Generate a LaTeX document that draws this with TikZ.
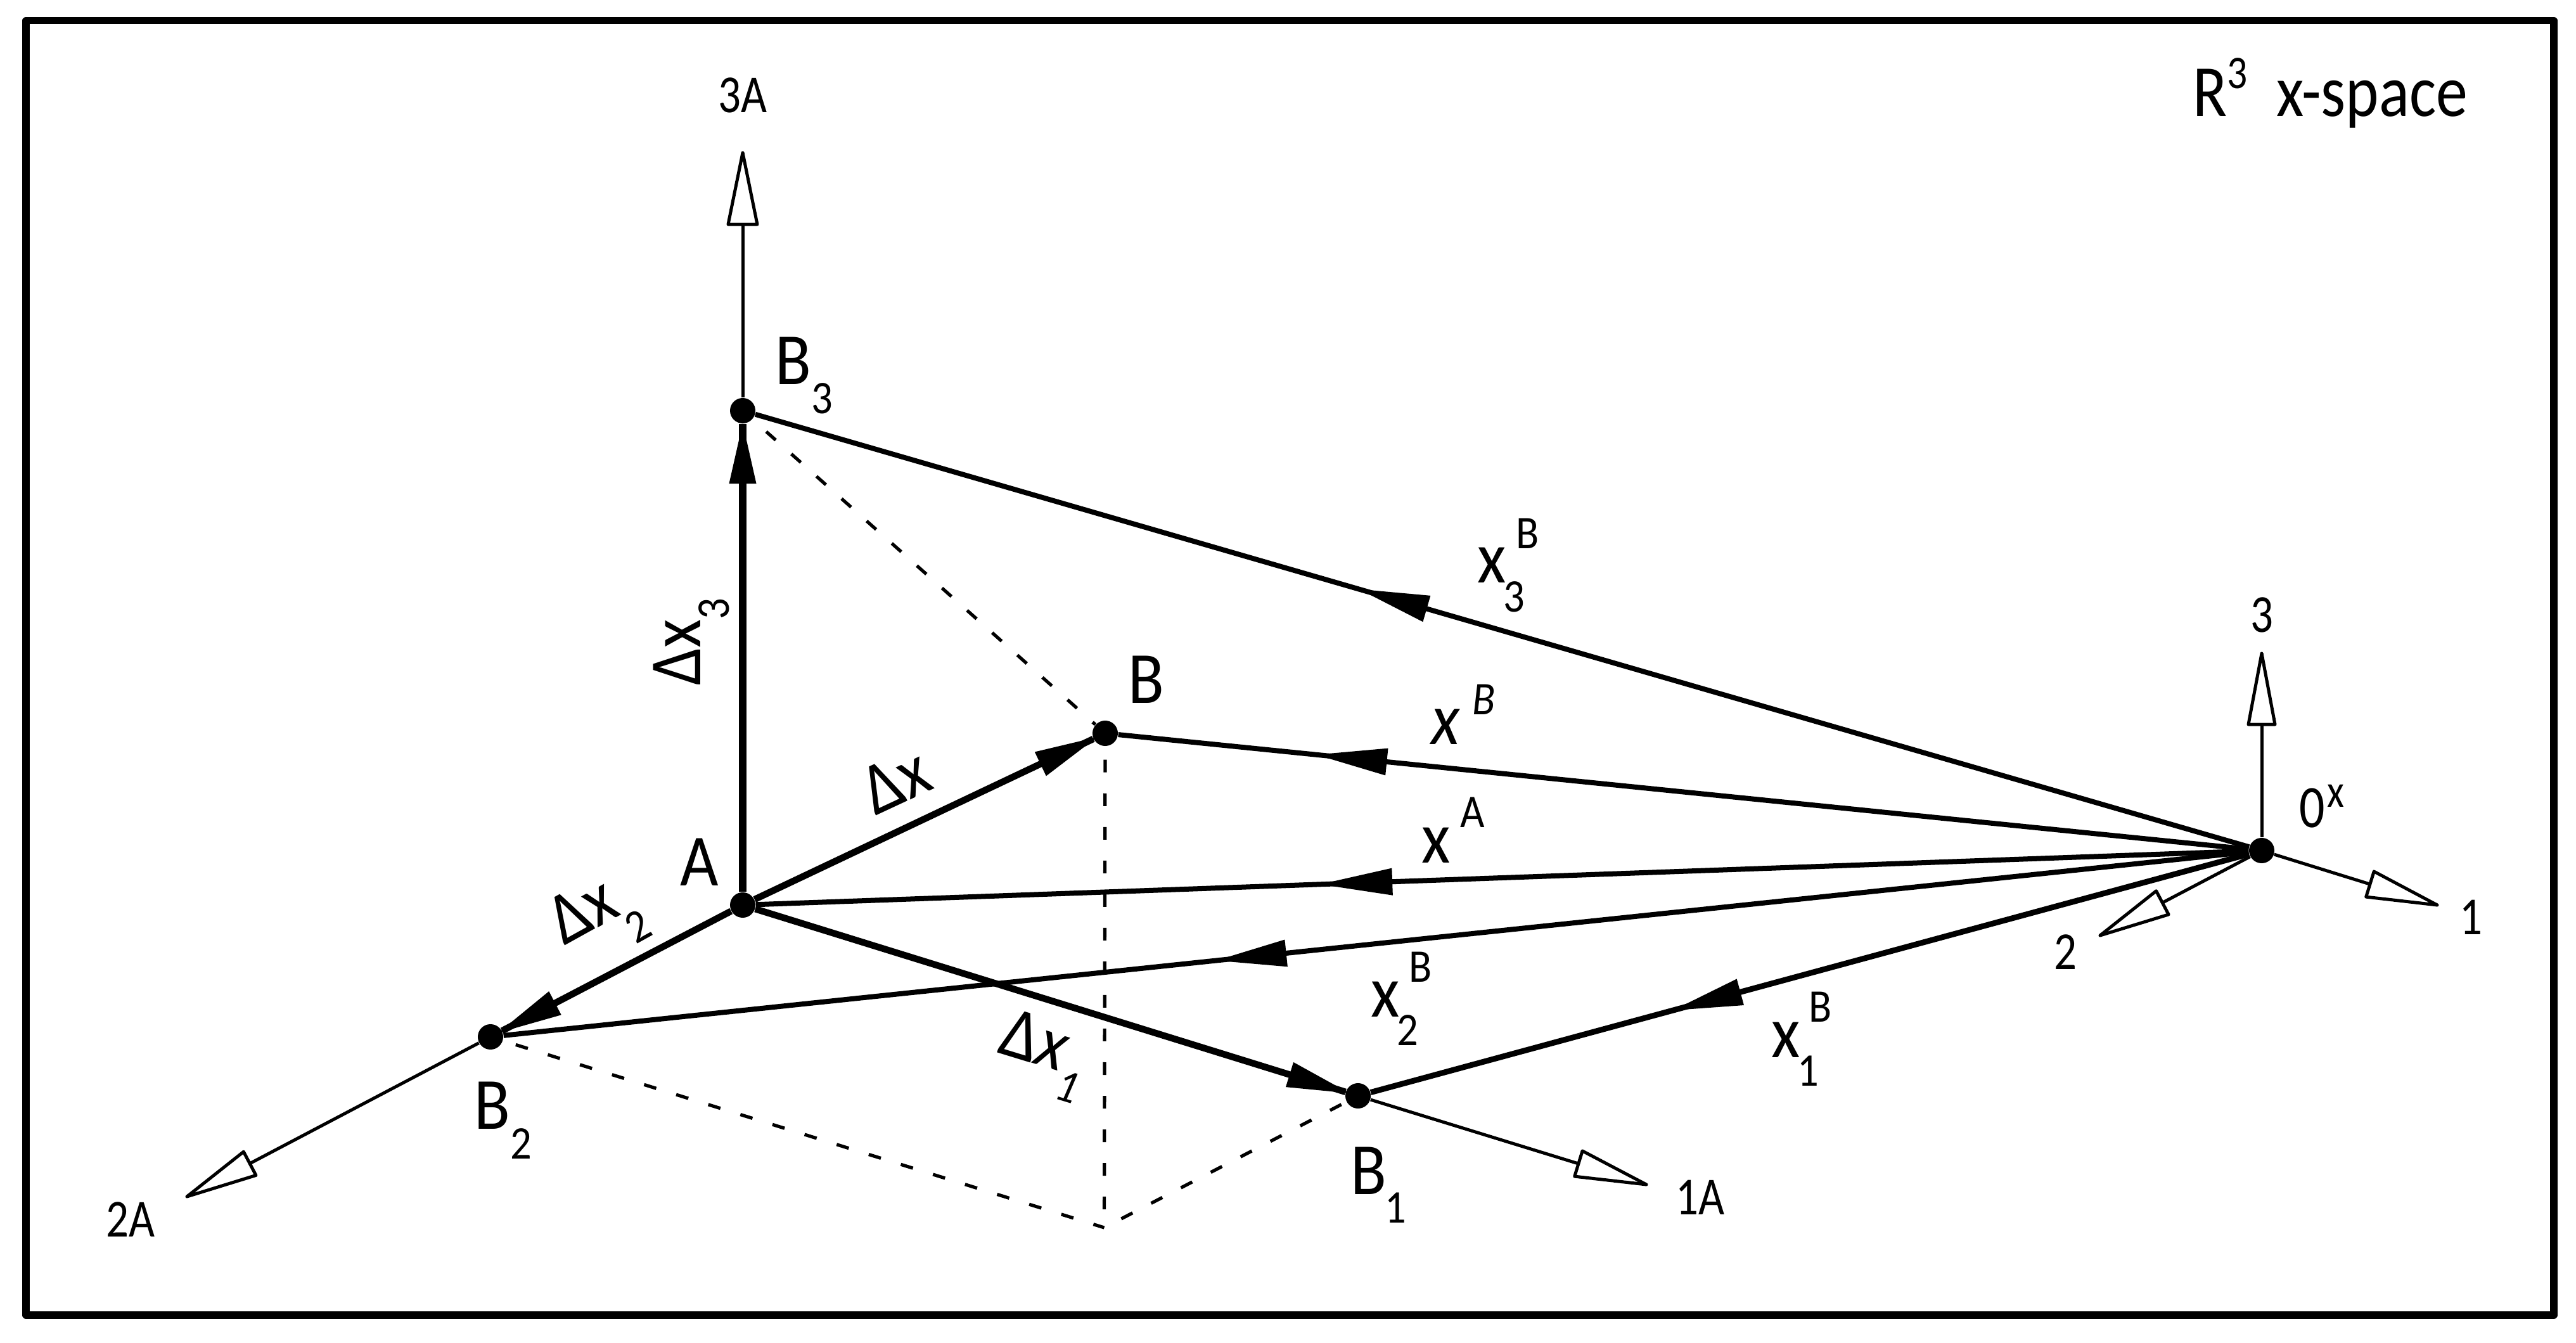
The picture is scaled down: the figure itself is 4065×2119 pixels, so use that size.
\documentclass[tikz,border=0pt]{standalone}
\usepackage{fontspec}
\setmainfont[FakeStretch=0.9]{Carlito}
\newfontfamily\titlef[FakeStretch=0.86]{Carlito}
\newfontfamily\numf[FakeStretch=0.84]{Carlito}
\usetikzlibrary{calc}
\newcommand{\lbig}{\fontsize{33}{36}\selectfont}
\newcommand{\lsm}{\fontsize{21}{24}\selectfont}
\newcommand{\lnum}{\numf\fontsize{24}{26}\selectfont}
\newcommand{\lsubp}[3]{\rlap{\kern#1cm\raisebox{#2cm}{\lsm #3}}}
\newcommand{\lsupp}[3]{\kern#1cm\raisebox{#2cm}{\lsm #3}}
% triangular head: style, tip, point behind it, length, half width
\newcommand{\tiphead}[5]{\path[#1] (#2) -- ($(#2)!#4!(#3)!#5!90:(#3)$) -- ($(#2)!#4!(#3)!#5!-90:(#3)$) -- cycle;}
\tikzset{
  x=0.01cm, y=-0.01cm,
  dotnode/.style={circle,fill=black,inner sep=0pt,minimum size=0.4cm},
  frameline/.style={draw=black,line width=0.115cm,line join=round},
  vecA/.style={draw=black,line width=0.105cm},
  vecB/.style={draw=black,line width=0.08cm},
  axisline/.style={draw=black,line width=0.05cm},
  dashline/.style={draw=black,line width=0.052cm,dash pattern=on 0.2cm off 0.33cm},
  solidhead/.style={fill=black},
  openhead/.style={draw=black,fill=white,line width=0.05cm,line join=round},
  lab/.style={inner sep=0pt,anchor=base west,font=\lbig},
  labc/.style={inner sep=0pt,anchor=base,font=\lbig},
  numlab/.style={inner sep=0pt,anchor=base,font=\lnum}
}
\begin{document}
\begin{tikzpicture}
\useasboundingbox (0,0) rectangle (4065,2119);
\draw[frameline] (41,32.5) rectangle (4030,2075);
% points
\node[dotnode] (A) at (1172,1428) {};
\node[dotnode] (B) at (1744,1157) {};
\node[dotnode] (B1) at (2143,1729) {};
\node[dotnode] (B2) at (774,1636) {};
\node[dotnode] (B3) at (1172,648) {};
\node[dotnode] (O) at (3569,1342) {};
\coordinate (P) at (1742.5,1937);
\coordinate (t3A) at (1172,241);
\coordinate (t2A) at (295,1888);
\coordinate (t1A) at (2598,1869);
\coordinate (t3) at (3569,1031);
\coordinate (t2) at (3314,1476);
\coordinate (t1) at (3846,1428);
% dashed construction lines
\draw[dashline,dash phase=0.24cm] (B3) -- (B);
\draw[dashline,dash phase=0.32cm] (B) -- (P);
\draw[dashline,dash phase=0.32cm] (B2) -- (P);
\draw[dashline,dash phase=0.44cm] (B1) -- (P);
% axes
\draw[axisline] (B3) -- (t3A);
\draw[axisline] (B2) -- (t2A);
\draw[axisline] (B1) -- (t1A);
\draw[axisline] (O) -- (t3);
\draw[axisline] (O) -- (t2);
\draw[axisline] (O) -- (t1);
\tiphead{openhead}{t3A}{B3}{1.13cm}{0.23cm}
\tiphead{openhead}{t2A}{B2}{1.12cm}{0.21cm}
\tiphead{openhead}{t1A}{B1}{1.12cm}{0.21cm}
\tiphead{openhead}{t3}{O}{1.12cm}{0.21cm}
\tiphead{openhead}{t2}{O}{1.11cm}{0.21cm}
\tiphead{openhead}{t1}{O}{1.11cm}{0.21cm}
% position vectors
\draw[vecB] (O) -- (B3);
\draw[vecB] (O) -- (B);
\draw[vecB] (O) -- (A);
\draw[vecB] (O) -- (B2);
\draw[vecB,line width=0.09cm] (O) -- (B1);
\tiphead{solidhead}{$(O)!14.82cm!(B3)$}{O}{1.11cm}{0.215cm}
\tiphead{solidhead}{$(O)!14.99cm!(B)$}{O}{1.12cm}{0.215cm}
\tiphead{solidhead}{$(O)!14.86cm!(A)$}{O}{1.14cm}{0.215cm}
\tiphead{solidhead}{$(O)!16.58cm!(B2)$}{O}{1.11cm}{0.215cm}
\tiphead{solidhead}{$(O)!9.62cm!(B1)$}{O}{1.10cm}{0.215cm}
% difference vectors
\draw[vecA,line width=0.12cm] (A) -- (B3);
\draw[vecA] (A) -- (B);
\draw[vecA] (A) -- (B1);
\draw[vecA] (A) -- (B2);
\tiphead{solidhead}{$(B3)!0.2cm!(A)$}{A}{0.95cm}{0.215cm}
\tiphead{solidhead}{$(B)!0.14cm!(A)$}{A}{0.99cm}{0.21cm}
\tiphead{solidhead}{$(B1)!0.14cm!(A)$}{A}{0.99cm}{0.205cm}
\tiphead{solidhead}{$(B2)!0.14cm!(A)$}{A}{1.01cm}{0.21cm}
% point labels
\node[labc] (lA) at (1104,1397) {A};
\node[labc] (lB) at (1809,1110) {B};
\node[lab] (lB3) at (1223,607) {B\lsubp{0}{-0.45}{3}};
\node[lab] (lB2) at (748,1781) {B\lsubp{0}{-0.47}{2}};
\node[lab] (lB1) at (2131,1884) {B\lsubp{-0.03}{-0.45}{1}};
\node[lab,font=\numf\fontsize{27}{30}\selectfont] (lO) at (3628,1306) {0\lsupp{0.03}{0.32}{x}};
% vector labels
\node[lab] (lx3) at (2331,919.5) {x\lsubp{-0.04}{-0.455}{3}\lsupp{0.16}{0.535}{B}};
\node[lab] (lxB) at (2258,1175) {\itshape x\lsupp{0.2}{0.47}{B}};
\node[lab] (lxA) at (2243,1362) {x\lsupp{0.16}{0.56}{A}};
\node[lab] (lx2) at (2163,1604) {x\lsubp{-0.04}{-0.45}{2}\lsupp{0.15}{0.54}{B}};
\node[lab] (lx1) at (2795,1668) {x\lsubp{-0.04}{-0.45}{1}\lsupp{0.14}{0.55}{B}};
\node[lab,rotate=25] (ldx) at (1381,1288) {Δx};
\node[lab,rotate=29] (ldx2) at (890,1493) {Δx\lsubp{-0.05}{-0.53}{2}};
\node[lab,rotate=-17] (ldx1) at (1572,1660) {Δ\itshape x\lsubp{0.02}{-0.43}{1}};
\node[lab,rotate=90] (ldx3) at (1105,1082) {Δx\lsubp{0}{-0.45}{3}};
% axis labels
\node[numlab] (n3A) at (1172,178) {3A};
\node[numlab] (n2A) at (206,1951) {2A};
\node[numlab] (n1A) at (2683,1916) {1A};
\node[numlab] (n3) at (3569,998) {3};
\node[numlab] (n2) at (3259,1529.5) {2};
\node[numlab] (n1) at (3899,1474.5) {1};
% title
\node[lab,font=\titlef\fontsize{33}{36}\selectfont] (title) at (3460,184) {R\raisebox{0.44cm}{\lsm 3}\kern0.45cm x-space};
\end{tikzpicture}
\end{document}
